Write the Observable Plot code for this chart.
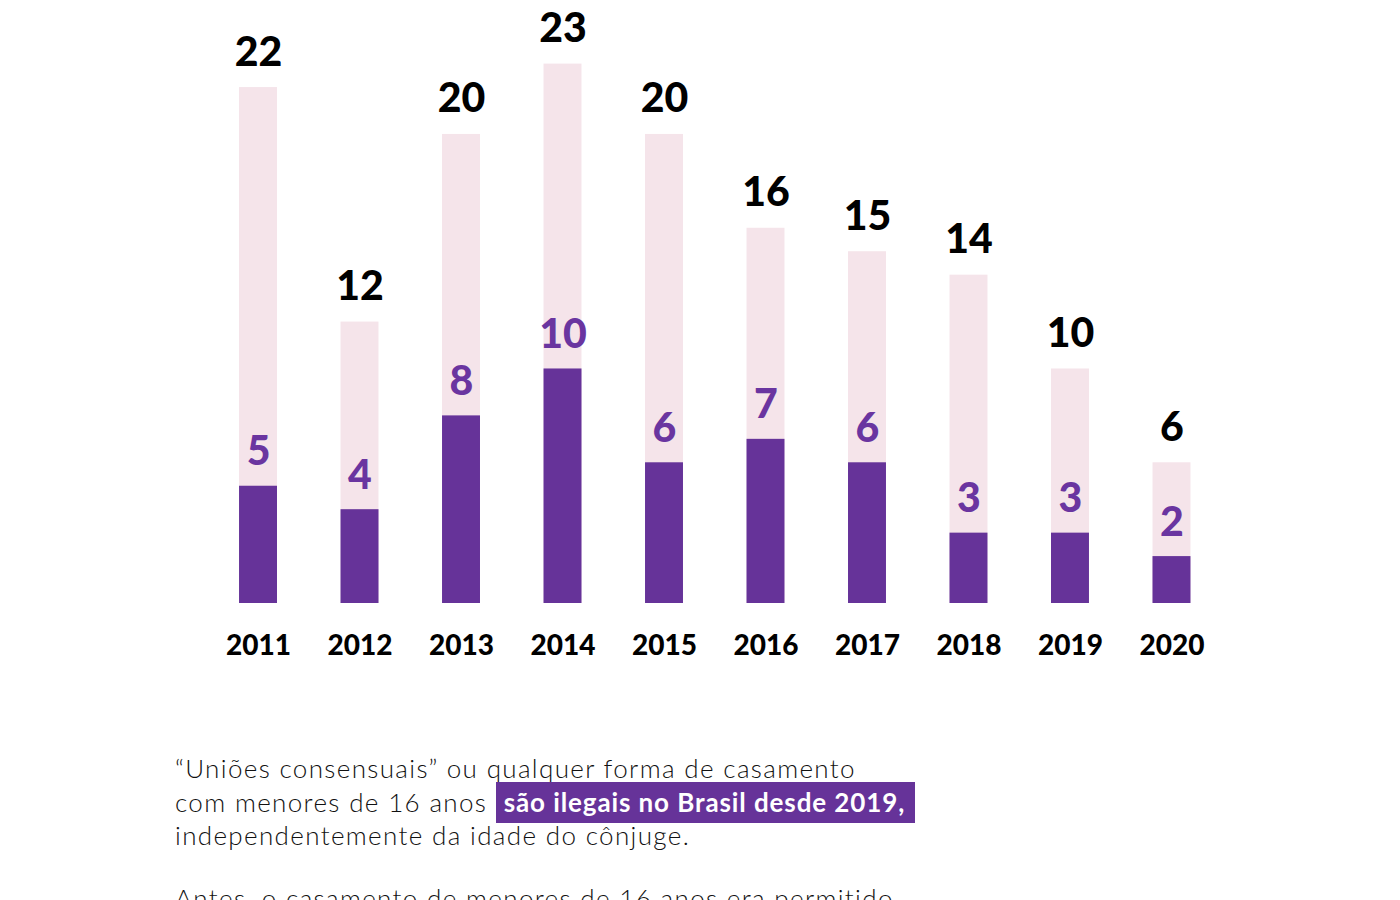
<!DOCTYPE html>
<html>
<head>
<meta charset="utf-8">
<script src="https://cdn.jsdelivr.net/npm/d3@7"></script>
<script src="https://cdn.jsdelivr.net/npm/@observablehq/plot@0.6"></script>
<style>
  html, body { margin: 0; padding: 0; background: #fff; width: 1400px; height: 900px; overflow: hidden; }
  #chart { position: absolute; left: 0; top: 0; }
  #note { position: absolute; left: 175px; top: 752px; font-family: Lato, "Open Sans", sans-serif; font-weight: 300; font-size: 26px; line-height: 33.5px; color: #111; letter-spacing: 1.35px; }
  #note p { margin: 0 0 29px 0; white-space: nowrap; }
  .hl { background: #663399; color: #fff; font-weight: 700; padding: 4px 10px 5px 8px; letter-spacing: 0.9px; }
</style>
</head>
<body>
<div id="chart"></div>
<div id="note">
  <p>“Uniões consensuais” ou qualquer forma de casamento<br>com menores de 16 anos <span class="hl">são ilegais no Brasil desde 2019,</span><br>independentemente da idade do cônjuge.</p>
  <p>Antes, o casamento de menores de 16 anos era permitido</p>
</div>
<script>
const years = ["2011","2012","2013","2014","2015","2016","2017","2018","2019","2020"];
const totals = [22, 12, 20, 23, 20, 16, 15, 14, 10, 6];
const under16 = [5, 4, 8, 10, 6, 7, 6, 3, 3, 2];

const data = years.map((y, i) => ({year: y, total: totals[i], under: under16[i]}));

const purple = "#663399";
const chart = Plot.plot({
  width: 1400,
  height: 690,
  marginLeft: 175.5,
  marginRight: 146,
  marginTop: 63.6,
  marginBottom: 87,
  style: {fontFamily: "Lato, sans-serif", background: "transparent"},
  x: {domain: years, padding: 0.626, round: false, axis: null},
  y: {domain: [0, 23], axis: null},
  marks: [
    Plot.barY(data, {x: "year", y: "total", fill: "#f5e4ea"}),
    Plot.barY(data, {x: "year", y: "under", fill: purple}),
    Plot.text(data, {x: "year", y: "total", text: d => String(d.total), lineAnchor: "bottom", dy: -22, fontSize: 41, fontWeight: 900, fill: "#000"}),
    Plot.text(data, {x: "year", y: "under", text: d => String(d.under), lineAnchor: "bottom", dy: -21, fontSize: 41, fontWeight: 900, fill: "#6a35a0"}),
    Plot.text(data, {x: "year", y: 0, text: "year", lineAnchor: "bottom", dy: 51, fontSize: 28, fontWeight: 900, fill: "#000"})
  ]
});
document.getElementById("chart").appendChild(chart);
</script>
</body>
</html>
